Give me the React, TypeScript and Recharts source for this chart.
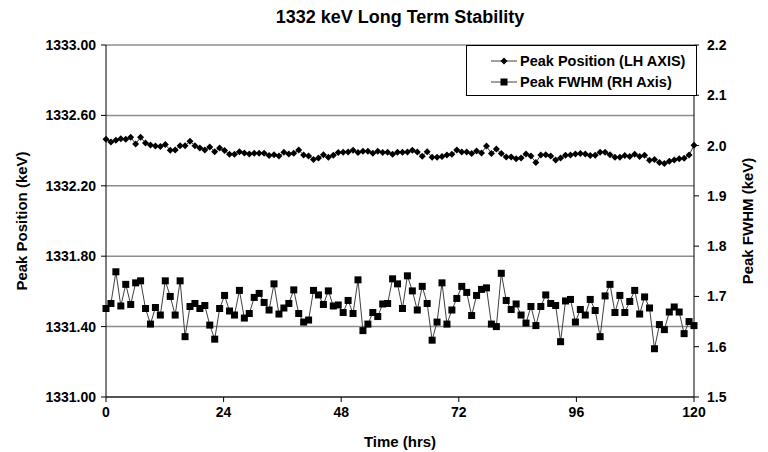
import { LineChart, Line, XAxis, YAxis, CartesianGrid } from 'recharts'

// Peak position (keV), one reading per sample
const PEAK_POSITION = [
  1332.464, 1332.449, 1332.459, 1332.468, 1332.464, 1332.476, 1332.438, 1332.476, 1332.443, 1332.432,
  1332.426, 1332.423, 1332.434, 1332.402, 1332.403, 1332.428, 1332.428, 1332.453, 1332.428, 1332.415,
  1332.403, 1332.421, 1332.394, 1332.415, 1332.400, 1332.379, 1332.379, 1332.394, 1332.386, 1332.381,
  1332.385, 1332.385, 1332.385, 1332.372, 1332.377, 1332.369, 1332.390, 1332.381, 1332.385, 1332.403,
  1332.375, 1332.369, 1332.349, 1332.358, 1332.377, 1332.362, 1332.373, 1332.389, 1332.390, 1332.392,
  1332.402, 1332.389, 1332.396, 1332.396, 1332.385, 1332.396, 1332.389, 1332.390, 1332.379, 1332.390,
  1332.390, 1332.392, 1332.402, 1332.392, 1332.368, 1332.394, 1332.362, 1332.362, 1332.366, 1332.375,
  1332.379, 1332.403, 1332.392, 1332.392, 1332.383, 1332.398, 1332.386, 1332.426, 1332.383, 1332.409,
  1332.383, 1332.364, 1332.364, 1332.354, 1332.358, 1332.381, 1332.369, 1332.332, 1332.375, 1332.377,
  1332.369, 1332.346, 1332.358, 1332.373, 1332.375, 1332.381, 1332.383, 1332.381, 1332.372, 1332.373,
  1332.390, 1332.390, 1332.377, 1332.362, 1332.362, 1332.372, 1332.366, 1332.379, 1332.366, 1332.373,
  1332.345, 1332.350, 1332.332, 1332.326, 1332.339, 1332.346, 1332.354, 1332.356, 1332.375, 1332.430,
]

// Peak FWHM (keV), right hand axis
const PEAK_FWHM = [
  1.676, 1.686, 1.749, 1.681, 1.724, 1.684, 1.727, 1.731, 1.676, 1.645,
  1.678, 1.663, 1.731, 1.700, 1.663, 1.731, 1.620, 1.680, 1.686, 1.676,
  1.682, 1.643, 1.615, 1.676, 1.702, 1.671, 1.663, 1.712, 1.657, 1.666,
  1.698, 1.706, 1.688, 1.673, 1.725, 1.665, 1.677, 1.686, 1.713, 1.666,
  1.649, 1.653, 1.712, 1.703, 1.684, 1.711, 1.681, 1.683, 1.668, 1.692,
  1.666, 1.733, 1.632, 1.645, 1.668, 1.660, 1.685, 1.686, 1.735, 1.725,
  1.676, 1.741, 1.711, 1.673, 1.720, 1.686, 1.613, 1.649, 1.727, 1.645,
  1.673, 1.696, 1.720, 1.708, 1.662, 1.702, 1.714, 1.717, 1.645, 1.640,
  1.746, 1.692, 1.674, 1.685, 1.663, 1.647, 1.680, 1.642, 1.680, 1.703,
  1.686, 1.682, 1.610, 1.691, 1.694, 1.649, 1.674, 1.663, 1.694, 1.672,
  1.620, 1.701, 1.724, 1.668, 1.702, 1.668, 1.690, 1.712, 1.665, 1.699,
  1.677, 1.596, 1.644, 1.634, 1.669, 1.679, 1.669, 1.626, 1.650, 1.642,
]

const SPAN_HRS = 120
const X_TICKS = [0, 24, 48, 72, 96, 120]
const LEFT_TICKS = [1331.0, 1331.4, 1331.8, 1332.2, 1332.6, 1333.0]
const RIGHT_TICKS = [1.5, 1.6, 1.7, 1.8, 1.9, 2.0, 2.1, 2.2]

// samples are evenly spread over the 120 hr run
const data = PEAK_POSITION.map((pos, i) => ({
  t: (i * SPAN_HRS) / (PEAK_POSITION.length - 1),
  pos,
  fwhm: PEAK_FWHM[i],
}))

const FONT = '"Liberation Sans", Arial, sans-serif'
const tickStyle = { fill: '#000', fontSize: 14, fontWeight: 700, fontFamily: FONT }
const labelStyle = { fill: '#000', fontSize: 15, fontWeight: 700, fontFamily: FONT, textAnchor: 'middle' as const }

const Diamond = ({ cx, cy }: any) => {
  if (cx == null || cy == null) return null
  const r = 3.5
  return <polygon points={`${cx},${cy - r} ${cx + r},${cy} ${cx},${cy + r} ${cx - r},${cy}`} fill="#000" />
}

const Square = ({ cx, cy }: any) => {
  if (cx == null || cy == null) return null
  return <rect x={cx - 3.5} y={cy - 3.5} width={7} height={7} fill="#000" />
}

function LegendBox() {
  const row = { display: 'flex', alignItems: 'center', height: 21 }
  return (
    <div
      style={{
        position: 'absolute', left: 466, top: 45, width: 231, height: 51,
        border: '1px solid #000', background: '#fff', boxSizing: 'border-box',
        fontFamily: FONT, fontWeight: 700, fontSize: 14.5, padding: '4px 0 0 24px',
      }}
    >
      <div style={row}>
        <svg width={28} height={10}>
          <line x1={0} y1={5} x2={26} y2={5} stroke="#404040" />
          <Diamond cx={13} cy={5} />
        </svg>
        <span style={{ marginLeft: 1 }}>Peak Position (LH AXIS)</span>
      </div>
      <div style={row}>
        <svg width={28} height={10}>
          <line x1={0} y1={5} x2={26} y2={5} stroke="#404040" />
          <Square cx={13} cy={5} />
        </svg>
        <span style={{ marginLeft: 1 }}>Peak FWHM (RH Axis)</span>
      </div>
    </div>
  )
}

export default function App() {
  return (
    <div style={{ position: 'absolute', left: 0, top: 0, width: 768, height: 452, background: '#fff' }}>
      <div
        style={{
          position: 'absolute', left: 106, width: 588, top: 7, textAlign: 'center',
          fontFamily: FONT, fontWeight: 700, fontSize: 18,
        }}
      >
        1332 keV Long Term Stability
      </div>
      <LineChart width={768} height={452} data={data} margin={{ top: 45, right: 0, bottom: 0, left: 0 }}>
        <CartesianGrid yAxisId="left" vertical={false} stroke="#8c8c8c" strokeWidth={1.5} />
        <XAxis
          dataKey="t"
          type="number"
          domain={[0, SPAN_HRS]}
          ticks={X_TICKS}
          height={55}
          tick={tickStyle}
          tickSize={5}
          tickMargin={5}
          axisLine={{ stroke: '#000' }}
          tickLine={{ stroke: '#000' }}
          label={{ value: 'Time (hrs)', position: 'insideBottom', offset: 5, style: labelStyle }}
        />
        <YAxis
          yAxisId="left"
          domain={[1331, 1333]}
          ticks={LEFT_TICKS}
          tickFormatter={(v: number) => v.toFixed(2)}
          width={106}
          tick={tickStyle}
          tickSize={5}
          tickMargin={5}
          axisLine={{ stroke: '#000' }}
          tickLine={{ stroke: '#000' }}
          label={{ value: 'Peak Position (keV)', angle: -90, position: 'insideLeft', offset: 22, style: labelStyle }}
        />
        <YAxis
          yAxisId="right"
          orientation="right"
          domain={[1.5, 2.2]}
          ticks={RIGHT_TICKS}
          tickFormatter={(v: number) => v.toFixed(1)}
          width={74}
          tick={{ ...tickStyle, textAnchor: 'start' }}
          tickSize={5}
          tickMargin={8}
          axisLine={{ stroke: '#000' }}
          tickLine={{ stroke: '#000' }}
          label={{ value: 'Peak FWHM (keV)', angle: -90, position: 'insideRight', offset: 20, style: labelStyle }}
        />
        <Line
          yAxisId="left"
          dataKey="pos"
          stroke="#404040"
          strokeWidth={1}
          dot={<Diamond />}
          activeDot={false}
          isAnimationActive={false}
        />
        <Line
          yAxisId="right"
          dataKey="fwhm"
          stroke="#404040"
          strokeWidth={1}
          dot={<Square />}
          activeDot={false}
          isAnimationActive={false}
        />
      </LineChart>
      <LegendBox />
    </div>
  )
}
